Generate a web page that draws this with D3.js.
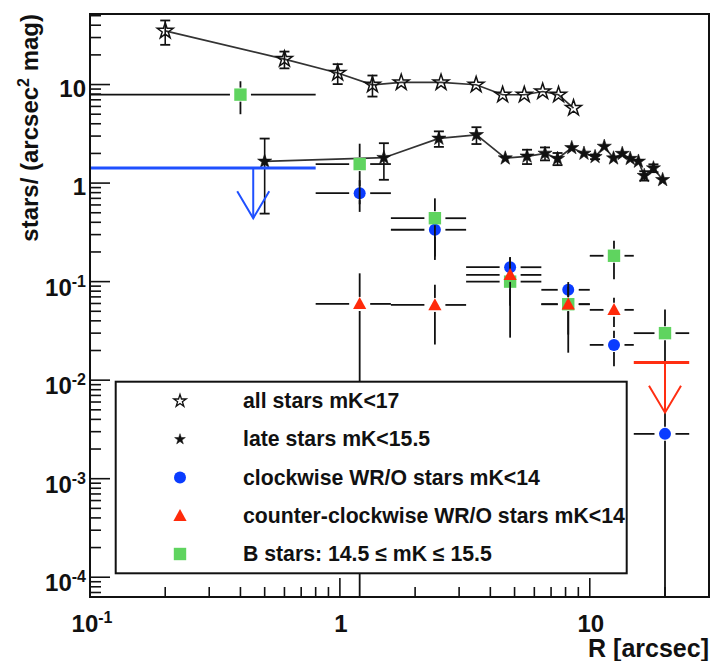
<!DOCTYPE html>
<html><head><meta charset="utf-8">
<script src="https://cdn.jsdelivr.net/npm/d3@7"></script>
<style>
body{margin:0;background:#fff;}
svg{display:block;}
text{font-family:"Liberation Sans",Arial,Helvetica,sans-serif;font-weight:bold;fill:#111;}
</style>
</head><body>
<svg id="c" width="710" height="661"></svg>
<script>
// ---------------- data ----------------
const allR   = [0.2, 0.6, 0.98, 1.35, 1.76, 2.54, 3.51, 4.48, 5.47, 6.48, 7.5, 8.61];
const allY   = [35, 18.1, 13.1, 9.95, 10.5, 10.5, 9.95, 7.88, 7.88, 8.5, 7.88, 5.77];
const allErr = [9.7, 3.5, 3.0, 2.4, 0, 0, 0, 0, 0, 0, 0, 0];

const lateR   = [0.5, 1.5, 2.49, 3.52, 4.59, 5.61, 6.62, 7.43, 8.47, 9.48, 10.5, 11.43, 12.45, 13.49, 14.52, 15.66, 16.52, 17.98, 19.57];
const lateY   = [1.66, 1.81, 2.84, 3.09, 1.79, 1.87, 2.0, 1.77, 2.28, 2.0, 1.85, 2.35, 1.79, 1.99, 1.77, 1.66, 1.19, 1.42, 1.08];
const lateErr = [1.17, 0.73, 0.51, 0.6, 0, 0.31, 0.3, 0.25, 0, 0, 0.1, 0, 0, 0, 0, 0, 0.13, 0.13, 0];

const binLo  = [0, 0.8, 1.6, 3.2, 6.4, 10, 15];
const binHi  = [0.8, 1.6, 3.2, 6.4, 10, 15, 25];
const binMid = [0.4, 1.2, 2.4, 4.8, 8.2, 12.5, 20];

const cwY   = [null, 0.79, 0.336, 0.14, 0.0826, 0.0228, 0.00285];
const cwErr = [null, 0.28, 0.17, 0.037, 0.009, 0.009, 0.0029];
const cwLimitBin = 0, cwLimitR = 0.45, cwLimitY = 1.42;

const ccwY   = [null, 0.0594, 0.058, 0.117, 0.059, 0.0517, null];
const ccwErr = [null, 0.062, 0.035, 0.06, 0.04, 0.017, null];
const ccwLimitBin = 6, ccwLimitR = 20, ccwLimitY = 0.0151;

const bY   = [7.9, 1.56, 0.44, 0.10, 0.059, 0.183, 0.030];
const bErr = [2.9, 0.95, 0.26, 0.073, 0.03, 0.077, 0.022];

const yTickVals = [1e-4, 1e-3, 1e-2, 1e-1, 1, 10];
const xTickVals = [0.1, 1, 10];
const legendLabels = [
  "all stars mK<17",
  "late stars mK<15.5",
  "clockwise WR/O stars mK<14",
  "counter-clockwise WR/O stars mK<14",
  "B stars: 14.5 \u2264 mK \u2264 15.5"
];
const xTitle = "R [arcsec]";

// ---------------- setup ----------------
const svg = d3.select("#c");
const L = 90, R = 709, T = 14, B = 597;
const x = d3.scaleLog().domain([0.1, 30]).range([L, R]);
const y = d3.scaleLog().domain([6.3e-5, 52]).range([B, T]);
const BLUE = "#0a3cff", RED = "#ff2a0a", GREEN = "#5fd45f", BLUEL = "#1f50ff", REDL = "#ff2e12";

svg.append("defs").append("clipPath").attr("id","clip")
  .append("rect").attr("x",L).attr("y",T).attr("width",R-L).attr("height",B-T);

const g = svg.append("g").attr("clip-path","url(#clip)");

function px(v){ return x(Math.max(v, 0.1)); }
function py(v){ return v > 0 ? y(v) : B + 20; }
const LW = 1.8;

function line(gr, x1,y1,x2,y2, col, w){
  gr.append("line").attr("x1",x1).attr("y1",y1).attr("x2",x2).attr("y2",y2)
    .attr("stroke",col||"#111").attr("stroke-width",w||LW);
}

// ---------------- star series ----------------
const starOpen = d3.symbol().type(d3.symbolStar).size(78)();
const starFill = d3.symbol().type(d3.symbolStar).size(62)();

function starSeries(R_, Y_, E_, path, filled){
  const pts = R_.map((r,i)=>[x(r), y(Y_[i])]);
  g.append("path").attr("d", d3.line()(pts)).attr("fill","none")
    .attr("stroke","#333").attr("stroke-width",1.7);
  R_.forEach((r,i)=>{
    const e = E_[i]; if(!e) return;
    const cx = x(r), t = y(Y_[i]+e), b = py(Y_[i]-e);
    line(g, cx, t, cx, b, "#111", 1.6);
    line(g, cx-5, t, cx+5, t, "#111", 1.8);
    line(g, cx-5, b, cx+5, b, "#111", 1.8);
  });
  R_.forEach((r,i)=>{
    g.append("path").attr("d", path)
      .attr("transform",`translate(${x(r)},${y(Y_[i])})`)
      .attr("fill", filled ? "#111" : "none")
      .attr("stroke","#111").attr("stroke-width", filled?0.6:1.5);
  });
}
starSeries(allR, allY, allErr, starOpen, false);
starSeries(lateR, lateY, lateErr, starFill, true);

// ---------------- binned series ----------------
const GX = 10.5, GY = 7;
function errBars(i, v, e){
  const cx = x(binMid[i]), cy = y(v);
  const xl = px(binLo[i]), xr = x(binHi[i]);
  if (xl < cx-GX) line(g, xl, cy, cx-GX, cy);
  if (xr > cx+GX) line(g, cx+GX, cy, xr, cy);
  const yt = y(v+e), yb = py(v-e);
  if (yt < cy-GY) line(g, cx, yt, cx, cy-GY);
  if (yb > cy+GY) line(g, cx, cy+GY, cx, yb);
}
const circlePath = d3.symbol().type(d3.symbolCircle).size(Math.PI*36)();
const squarePath = "M-6.2,-6.2H6.2V6.2H-6.2Z";
const triPath = "M0,-6.8L6.6,5.2H-6.6Z";

function binSeries(Y_, E_, path, col){
  Y_.forEach((v,i)=>{
    if (v == null) return;
    errBars(i, v, E_[i]);
    g.append("path").attr("d", path)
      .attr("transform",`translate(${x(binMid[i])},${y(v)})`).attr("fill", col);
  });
}

function upperLimit(bin, r, v, col){
  const cx = x(r), cy = y(v);
  line(g, px(binLo[bin]), cy, x(binHi[bin]), cy, col, 3);
  const tip = y(v*0.31);
  line(g, cx, cy, cx, tip, col, 2);
  g.append("path").attr("d", `M${cx-16},${tip-27}L${cx},${tip}L${cx+16},${tip-27}`)
    .attr("fill","none").attr("stroke",col).attr("stroke-width",2);
}

binSeries(cwY, cwErr, circlePath, BLUE);
binSeries(bY, bErr, squarePath, GREEN);
binSeries(ccwY, ccwErr, triPath, RED);
upperLimit(cwLimitBin, cwLimitR, cwLimitY, BLUEL);
upperLimit(ccwLimitBin, ccwLimitR, ccwLimitY, REDL);

// ---------------- axes ----------------
const ax = svg.append("g");
const yMinor = [];
for (let k=-5;k<=1;k++) for (let m=1;m<=9;m++){ const v=m*Math.pow(10,k); if (v>=6.3e-5 && v<=52) yMinor.push(v); }
yMinor.forEach(v=>{
  const major = Math.abs(Math.log10(v) - Math.round(Math.log10(v))) < 1e-9;
  line(ax, L, y(v), L + (major?20:11), y(v), "#111", 1.6);
});
const xMinor = [];
for (let k=-1;k<=1;k++) for (let m=1;m<=9;m++){ const v=m*Math.pow(10,k); if (v>=0.1 && v<=30) xMinor.push(v); }
xMinor.forEach(v=>{
  const major = Math.abs(Math.log10(v) - Math.round(Math.log10(v))) < 1e-9;
  line(ax, x(v), B, x(v), B - (major?19:10), "#111", 1.6);
});

function tickLabel(sel, v){
  const e = Math.round(Math.log10(v));
  if (e === 0){ sel.text("1"); return false; }
  if (e === 1){ sel.text("10"); return false; }
  sel.append("tspan").text("10");
  sel.append("tspan").attr("dy",-9).attr("font-size",16).text(String(e));
  return true;
}
yTickVals.forEach(v=>{
  const t = ax.append("text").attr("x",86).attr("text-anchor","end").attr("font-size",24);
  const sup = tickLabel(t, v);
  t.attr("y", y(v) + (sup?14:12));
});
xTickVals.forEach(v=>{
  const t = ax.append("text").attr("x",x(v)+ (v===0.1?2:1)).attr("y",632).attr("text-anchor","middle").attr("font-size",24);
  tickLabel(t, v);
});

// frame
svg.append("rect").attr("x",L).attr("y",T).attr("width",R-L).attr("height",B-T)
  .attr("fill","none").attr("stroke","#111").attr("stroke-width",2);

// titles
svg.append("text").attr("x",709).attr("y",657).attr("text-anchor","end").attr("font-size",25).text(xTitle);
const yt = svg.append("text").attr("transform","translate(38,14) rotate(-90)")
  .attr("text-anchor","end").attr("font-size",24);
yt.append("tspan").text("stars/ (arcsec");
yt.append("tspan").attr("dy",-9).attr("font-size",16).text("2");
yt.append("tspan").attr("dy",9).text(" mag)");

// ---------------- legend ----------------
const lg = svg.append("g");
lg.append("rect").attr("x",115.7).attr("y",381.7).attr("width",511).attr("height",191.6)
  .attr("fill","#fff").attr("stroke","#111").attr("stroke-width",2);
const rowY = [401, 439.3, 477.5, 515.7, 554];
const legMarks = [
  {p: d3.symbol().type(d3.symbolStar).size(48)(), fill:"none", stroke:"#111", sw:1.3},
  {p: d3.symbol().type(d3.symbolStar).size(36)(), fill:"#111", stroke:"#111", sw:0.5},
  {p: circlePath, fill:BLUE},
  {p: triPath, fill:RED},
  {p: squarePath, fill:GREEN}
];
const texts = [];
legendLabels.forEach((lab,i)=>{
  const m = legMarks[i];
  lg.append("path").attr("d",m.p).attr("transform",`translate(180,${rowY[i]})`)
    .attr("fill",m.fill).attr("stroke",m.stroke||"none").attr("stroke-width",m.sw||0);
  texts.push(lg.append("text").attr("x",243).attr("y",rowY[i]+7).attr("font-size",20).text(lab));
});
// fit the longest label to the legend width as in the reference
const wLong = texts[3].node().getComputedTextLength();
const fs = Math.min(22, 20 * 382 / wLong);
texts.forEach(t=>t.attr("font-size", fs));
</script>
</body></html>
